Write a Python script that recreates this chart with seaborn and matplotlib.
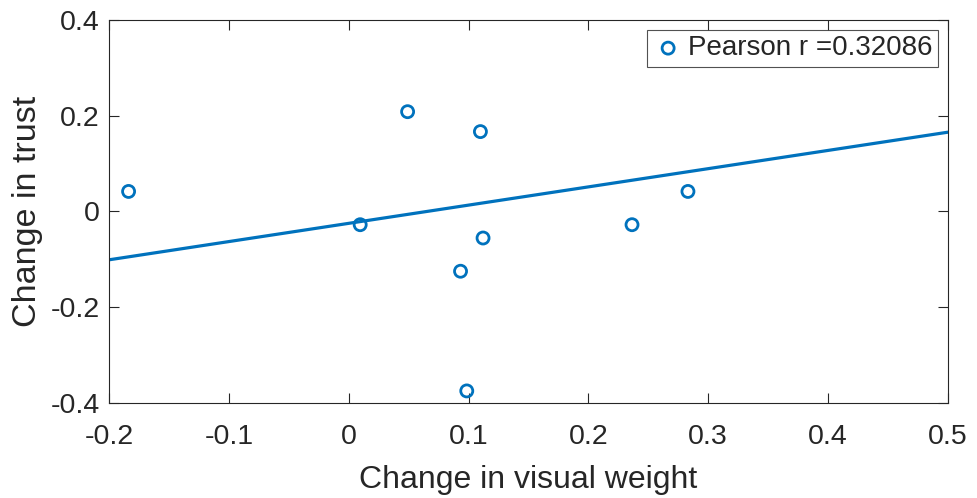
import numpy as np
import pandas as pd
import matplotlib
matplotlib.use("Agg")
import matplotlib.pyplot as plt
import seaborn as sns

visual_weight = [-0.184, 0.0094, 0.049, 0.1098, 0.112, 0.0932, 0.0984, 0.2364, 0.2831]
trust_change = [0.0417, -0.0278, 0.2083, 0.1667, -0.0556, -0.125, -0.375, -0.0278, 0.0417]
fit_x = [-0.2, 0.5]
fit_y = [-0.101, 0.1654]
legend_label = "Pearson r =0.32086"
x_ticks = [-0.2, -0.1, 0, 0.1, 0.2, 0.3, 0.4, 0.5]
y_ticks = [-0.4, -0.2, 0, 0.2, 0.4]

df = pd.DataFrame({"x": visual_weight, "y": trust_change})
fit_df = pd.DataFrame({"x": fit_x, "y": fit_y})

sns.set_theme(style="white")
plt.rcParams["font.family"] = ["Liberation Sans", "DejaVu Sans"]

blue = "#0072BD"
dark = "#262626"

fig = plt.figure(figsize=(9.77, 4.98), dpi=100)
ax = fig.add_axes([0.112, 0.191, 0.858, 0.769])

sns.lineplot(data=fit_df, x="x", y="y", ax=ax, color=blue, lw=2.3, legend=False)
sns.scatterplot(data=df, x="x", y="y", ax=ax, marker="o", s=75,
                facecolors="none", edgecolor=blue, linewidth=2.0,
                label=legend_label, zorder=3)

ax.set_xlim(-0.2, 0.5)
ax.set_ylim(-0.4, 0.4)
ax.set_xticks(x_ticks)
ax.set_xticklabels(["-0.2", "-0.1", "0", "0.1", "0.2", "0.3", "0.4", "0.5"])
ax.set_yticks(y_ticks)
ax.set_yticklabels(["-0.4", "-0.2", "0", "0.2", "0.4"])
ax.tick_params(direction="in", length=7, width=0.8, color=dark, labelsize=20.5,
               labelcolor=dark, top=True, right=True, bottom=True, left=True)
ax.tick_params(axis="x", pad=15)
ax.tick_params(axis="y", pad=7)
for s in ax.spines.values():
    s.set_color(dark)
    s.set_linewidth(0.8)
ax.set_xlabel("Change in visual weight", fontsize=23, color=dark, labelpad=11)
ax.set_ylabel("Change in trust", fontsize=24.5, color=dark, labelpad=5.5)

leg = ax.legend(loc="upper right", fontsize=20, frameon=True, fancybox=False,
                edgecolor=dark, handletextpad=0.15, borderpad=0.2,
                handlelength=1.1, borderaxespad=0, bbox_to_anchor=(0.988, 0.974))
leg.get_frame().set_linewidth(0.8)

fig.savefig("out.png", dpi=100)
